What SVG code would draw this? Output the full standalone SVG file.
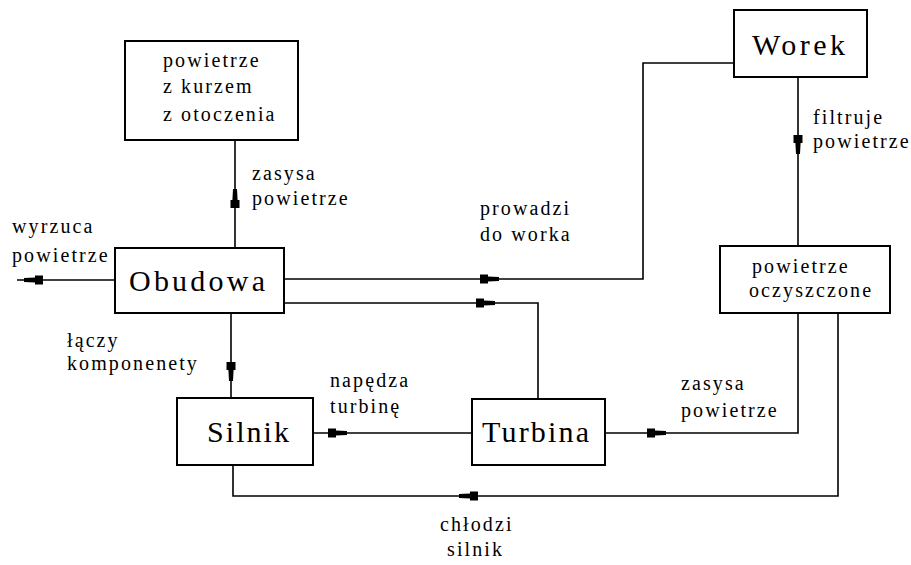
<svg xmlns="http://www.w3.org/2000/svg" xmlns:xlink="http://www.w3.org/1999/xlink" width="911" height="565" viewBox="0 0 911 565">
  <style>
    .box { fill: #fff; stroke: #000; stroke-width: 2; }
    .wire { fill: none; stroke: #000; stroke-width: 1.6; }
    .tab { fill: #000; }
    .big { font-size: 30px; }
    .sm { font-size: 20px; letter-spacing: 2.1px; }
  </style>
  <defs>
    <!-- flow tag: thick block followed by a narrower head, pointing along +x -->
    <path id="flow" class="tab" d="M0,-4.5 H8 V-2.6 L19,-2 V2 L8,2.6 V4.5 H0 Z"/>
  </defs>

  <rect width="911" height="565" fill="#fff"/>

  <g font-family="'Liberation Serif', 'DejaVu Serif', serif" fill="#000">
  <g id="connectors">
    <path class="wire" d="M235,140 V248"/>
    <path class="wire" d="M115,280 H17"/>
    <path class="wire" d="M284,279 H643 V63 H734"/>
    <path class="wire" d="M284,303 H538 V399"/>
    <path class="wire" d="M231,313 V398"/>
    <path class="wire" d="M310,433 H472"/>
    <path class="wire" d="M605,433 H798 V313"/>
    <path class="wire" d="M838,313 V496 H233 V465"/>
    <path class="wire" d="M798,77 V246"/>

    <use xlink:href="#flow" transform="translate(235,208) rotate(-90)"/>
    <use xlink:href="#flow" transform="translate(43,280) rotate(180)"/>
    <use xlink:href="#flow" transform="translate(480,279)"/>
    <use xlink:href="#flow" transform="translate(476,303)"/>
    <use xlink:href="#flow" transform="translate(231,362) rotate(90)"/>
    <use xlink:href="#flow" transform="translate(328,433)"/>
    <use xlink:href="#flow" transform="translate(647,433)"/>
    <use xlink:href="#flow" transform="translate(478,496) rotate(180)"/>
    <use xlink:href="#flow" transform="translate(798,135) rotate(90)"/>

    <text class="sm" x="252" y="180">zasysa</text>
    <text class="sm" x="252" y="205">powietrze</text>
    <text class="sm" x="12" y="233">wyrzuca</text>
    <text class="sm" x="12" y="262">powietrze</text>
    <text class="sm" x="480" y="215">prowadzi</text>
    <text class="sm" x="480" y="241">do worka</text>
    <text class="sm" x="67" y="347">łączy</text>
    <text class="sm" x="67" y="370">komponenety</text>
    <text class="sm" x="330" y="387">napędza</text>
    <text class="sm" x="330" y="413">turbinę</text>
    <text class="sm" x="813" y="124">filtruje</text>
    <text class="sm" x="813" y="148">powietrze</text>
    <text class="sm" x="681" y="390">zasysa</text>
    <text class="sm" x="681" y="417">powietrze</text>
    <text class="sm" x="440" y="531">chłodzi</text>
    <text class="sm" x="447" y="556">silnik</text>
  </g>

  <g id="otoczenie">
    <rect class="box" x="125" y="41" width="173" height="99"/>
    <text class="sm" x="163" y="67">powietrze</text>
    <text class="sm" x="163" y="93">z kurzem</text>
    <text class="sm" x="163" y="121">z otoczenia</text>
  </g>

  <g id="obudowa">
    <rect class="box" x="115" y="248" width="169" height="65"/>
    <text class="big" x="129" y="291" textLength="136" lengthAdjust="spacing">Obudowa</text>
  </g>

  <g id="silnik">
    <rect class="box" x="177" y="398" width="136" height="67"/>
    <text class="big" x="207" y="442" textLength="82" lengthAdjust="spacing">Silnik</text>
  </g>

  <g id="turbina">
    <rect class="box" x="472" y="399" width="133" height="66"/>
    <text class="big" x="482" y="442" textLength="107" lengthAdjust="spacing">Turbina</text>
  </g>

  <g id="worek">
    <rect class="box" x="734" y="10" width="133" height="67"/>
    <text class="big" x="752" y="55" textLength="93" lengthAdjust="spacing">Worek</text>
  </g>

  <g id="oczyszczone">
    <rect class="box" x="720" y="246" width="170" height="67"/>
    <text class="sm" x="752" y="273">powietrze</text>
    <text class="sm" x="749" y="297">oczyszczone</text>
  </g>
  </g>
</svg>
